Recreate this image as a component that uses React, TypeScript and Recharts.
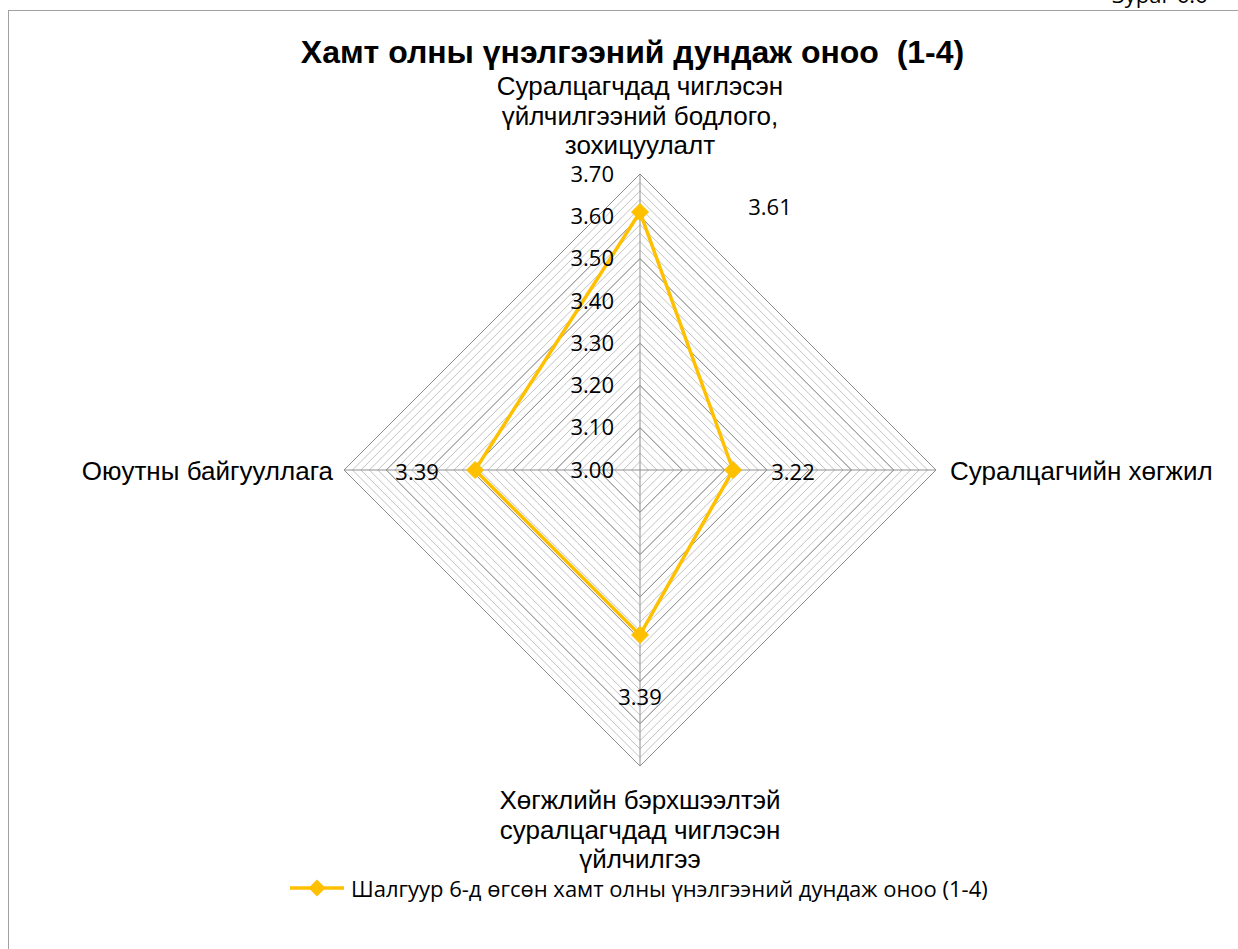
import React from 'react';
import {
  RadarChart,
  Radar,
  PolarGrid,
  PolarAngleAxis,
  PolarRadiusAxis,
  Legend,
  LabelList,
} from 'recharts';

const categories = [
  'Суралцагчдад чиглэсэн үйлчилгээний бодлого, зохицуулалт',
  'Суралцагчийн хөгжил',
  'Хөгжлийн бэрхшээлтэй суралцагчдад чиглэсэн үйлчилгээ',
  'Оюутны байгууллага',
];
const categoryLines: string[][] = [
  ['Суралцагчдад чиглэсэн', 'үйлчилгээний бодлого,', 'зохицуулалт'],
  ['Суралцагчийн хөгжил'],
  ['Хөгжлийн бэрхшээлтэй', 'суралцагчдад чиглэсэн', 'үйлчилгээ'],
  ['Оюутны байгууллага'],
];
const scores = [3.61, 3.22, 3.39, 3.39];
const axisDomain = [3.0, 3.7];
const majorTicks = [3.0, 3.1, 3.2, 3.3, 3.4, 3.5, 3.6, 3.7];
const minorTicks = [
  3.0, 3.02, 3.04, 3.06, 3.08, 3.1, 3.12, 3.14, 3.16, 3.18, 3.2, 3.22, 3.24, 3.26, 3.28,
  3.3, 3.32, 3.34, 3.36, 3.38, 3.4, 3.42, 3.44, 3.46, 3.48, 3.5, 3.52, 3.54, 3.56, 3.58,
  3.6, 3.62, 3.64, 3.66, 3.68, 3.7,
];
const seriesName = 'Шалгуур 6-д өгсөн хамт олны үнэлгээний дундаж оноо (1-4)';
const chartTitle = 'Хамт олны үнэлгээний дундаж оноо  (1-4)';
const pageCaption = 'Зураг 6.6';

const data = categories.map((c, i) => ({ category: c, value: scores[i] }));

const GOLD = '#FFC000';
const ARIAL = '"Liberation Sans", Arial, sans-serif';
const CALIBRI = '"Open Sans", "Noto Sans", sans-serif';
const OUTER_R = 296;
const toRadius = (v: number) =>
  ((v - axisDomain[0]) / (axisDomain[1] - axisDomain[0])) * OUTER_R;

const AngleTick = (props: any) => {
  const { x, y, payload, cx, cy } = props;
  const idx = categories.indexOf(payload.value);
  const lines = categoryLines[idx] || [String(payload.value)];
  const dx = x - (cx ?? 640);
  const dy = y - (cy ?? 470);
  const lh = 29.5;
  const style = { fontFamily: ARIAL, fontSize: 26, fill: '#000' };
  if (Math.abs(dy) > Math.abs(dx)) {
    if (dy < 0) {
      const lastBase = y - 12;
      return (
        <text x={x} textAnchor="middle" style={style}>
          {lines.map((l, i) => (
            <tspan key={i} x={x} y={lastBase - (lines.length - 1 - i) * lh}>
              {l}
            </tspan>
          ))}
        </text>
      );
    }
    const firstBase = y + 35;
    return (
      <text x={x} textAnchor="middle" style={style}>
        {lines.map((l, i) => (
          <tspan key={i} x={x} y={firstBase + i * lh}>
            {l}
          </tspan>
        ))}
      </text>
    );
  }
  if (dx > 0) {
    return (
      <text x={x + 6} y={y + 10} textAnchor="start" style={style}>
        {lines[0]}
      </text>
    );
  }
  return (
    <text x={x - 3} y={y + 10} textAnchor="end" style={style}>
      {lines[0]}
    </text>
  );
};

const RadiusTick = (props: any) => {
  const { x, y, payload } = props;
  const v = Number(payload.value);
  if (!majorTicks.some((m) => Math.abs(m - v) < 1e-6)) return null;
  return (
    <text
      x={x - 26}
      y={y}
      dy="0.35em"
      textAnchor="end"
      style={{ fontFamily: CALIBRI, fontSize: 22, fill: '#000' }}
    >
      {v.toFixed(2)}
    </text>
  );
};

const labelOffsets = [
  [130, -5],
  [60, 2],
  [0, 62],
  [-58, 2],
];

const DataLabel = (props: any) => {
  const { x, y, value, index } = props;
  const off = labelOffsets[index] || [0, 0];
  return (
    <text
      x={x + off[0]}
      y={y + off[1]}
      dy="0.35em"
      textAnchor="middle"
      style={{ fontFamily: CALIBRI, fontSize: 22, fill: '#000' }}
    >
      {Number(value).toFixed(2)}
    </text>
  );
};

const Diamond = (props: any) => {
  const { cx, cy } = props;
  if (cx == null || cy == null) return null;
  const s = 8.5;
  return (
    <path
      d={`M${cx},${cy - s}L${cx + s},${cy}L${cx},${cy + s}L${cx - s},${cy}Z`}
      fill={GOLD}
      stroke={GOLD}
    />
  );
};

const LegendContent = () => (
  <div
    style={{
      display: 'flex',
      alignItems: 'center',
      justifyContent: 'flex-start',
      paddingLeft: 290,
      height: 30,
    }}
  >
    <svg width={54} height={20} style={{ display: 'block' }}>
      <line x1={0} y1={10} x2={54} y2={10} stroke={GOLD} strokeWidth={3.5} />
      <path d="M27,1.5L35.5,10L27,18.5L18.5,10Z" fill={GOLD} />
    </svg>
    <span
      style={{
        marginLeft: 7,
        fontFamily: CALIBRI,
        fontSize: 22,
        color: '#000',
        whiteSpace: 'pre',
      }}
    >
      {seriesName}
    </span>
  </div>
);

export default function App() {
  return (
    <div
      style={{
        position: 'absolute',
        left: 0,
        top: 0,
        width: 1238,
        height: 949,
        overflow: 'hidden',
        background: '#fff',
      }}
    >
      <span
        style={{
          position: 'absolute',
          left: 1112,
          top: -18,
          fontFamily: CALIBRI,
          fontSize: 22,
          lineHeight: '24px',
          whiteSpace: 'pre',
          color: '#000',
        }}
      >
        {pageCaption}
      </span>
      <div
        style={{
          position: 'absolute',
          left: 8,
          top: 10,
          width: 1260,
          height: 980,
          border: '1px solid #a0a0a0',
          boxSizing: 'border-box',
        }}
      />
      <div
        style={{
          position: 'absolute',
          left: 0,
          top: 33,
          width: 1265,
          textAlign: 'center',
          fontFamily: ARIAL,
          fontWeight: 'bold',
          fontSize: 32,
          lineHeight: '38px',
          whiteSpace: 'pre',
          color: '#000',
        }}
      >
        {chartTitle}
      </div>
      <div style={{ position: 'absolute', left: 0, top: 0 }}>
        <RadarChart
          width={1238}
          height={949}
          data={data}
          cx={640}
          cy={470}
          outerRadius={OUTER_R}
          startAngle={90}
          endAngle={-270}
          margin={{ top: 0, right: 0, bottom: 0, left: 0 }}
        >
          <PolarGrid
            gridType="polygon"
            radialLines={false}
            stroke="#c2c2c2"
            strokeWidth={1}
          />
          <PolarGrid
            gridType="polygon"
            polarRadius={majorTicks.map(toRadius)}
            stroke="#8e8e8e"
            strokeWidth={1}
          />
          <PolarAngleAxis
            dataKey="category"
            tick={<AngleTick />}
            tickLine={false}
            axisLine={false}
          />
          <PolarRadiusAxis
            angle={90}
            domain={axisDomain as any}
            ticks={minorTicks as any}
            tickCount={8}
            allowDecimals={true}
            type="number"
            scale="linear"
            allowDataOverflow
            tick={<RadiusTick />}
            axisLine={false}
            tickLine={false}
          />
          <Radar
            name={seriesName}
            dataKey="value"
            stroke={GOLD}
            strokeWidth={3.5}
            fill="none"
            fillOpacity={0}
            dot={<Diamond />}
            isAnimationActive={false}
          >
            <LabelList dataKey="value" content={<DataLabel />} />
          </Radar>
          <Legend
            content={<LegendContent />}
            wrapperStyle={{ position: 'absolute', left: 0, top: 873, width: 1238 }}
          />
        </RadarChart>
      </div>
    </div>
  );
}
